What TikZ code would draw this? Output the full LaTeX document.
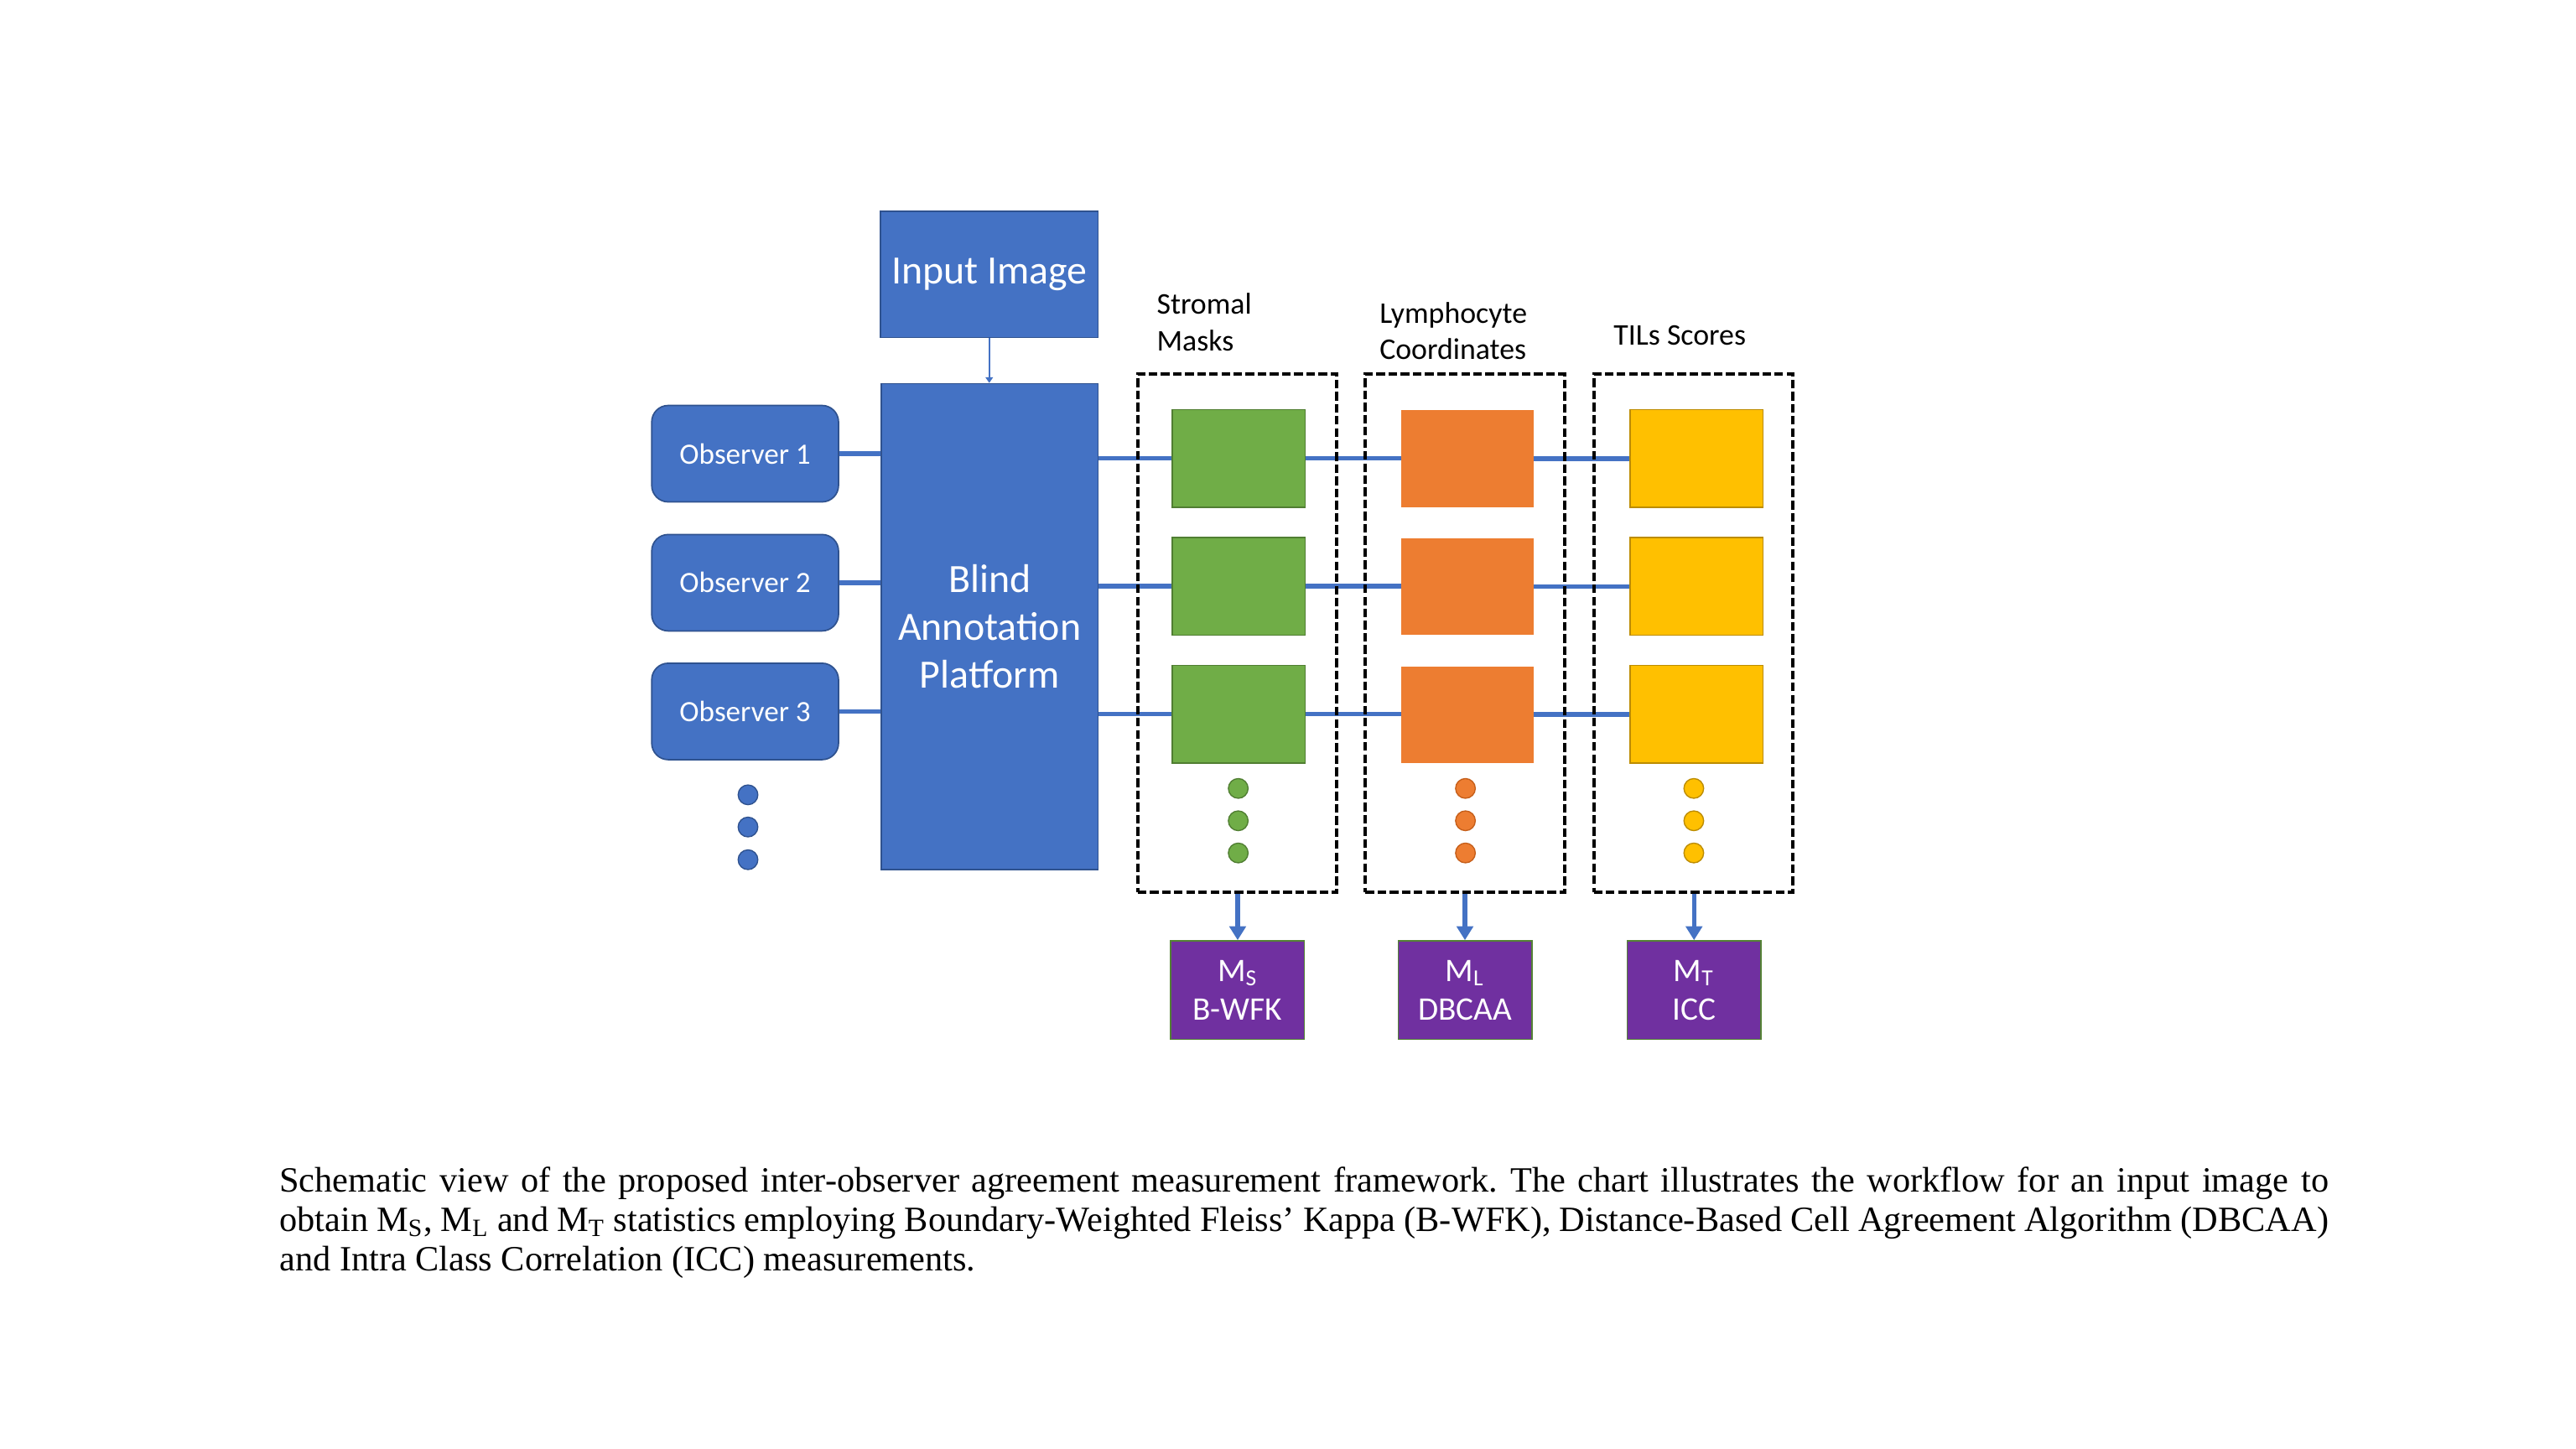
\documentclass[tikz,border=0pt]{standalone}
\usepackage{fontspec}
\setmainfont{Liberation Serif}
\newfontfamily\cali{Carlito}
\usetikzlibrary{arrows.meta,backgrounds}
\definecolor{oblue}{HTML}{4472C4}
\definecolor{oblueD}{HTML}{2F528F}
\definecolor{ogreen}{HTML}{70AD47}
\definecolor{ogreenD}{HTML}{507E32}
\definecolor{oorange}{HTML}{ED7D31}
\definecolor{oorangeD}{HTML}{C65F1A}
\definecolor{oyellow}{HTML}{FFC000}
\definecolor{oyellowD}{HTML}{BC8C00}
\definecolor{opurple}{HTML}{7030A0}
\definecolor{opurpleD}{HTML}{548235}
\frenchspacing
\begin{document}
\begin{tikzpicture}[x=0.02cm,y=-0.02cm,
  bluebox/.style={draw=oblueD, line width=0.5pt, fill=oblue, text=white, inner sep=0pt, align=center,
    font=\cali\fontsize{13.9}{16.5}\selectfont},
  obsbox/.style={draw=oblueD, line width=0.5pt, fill=oblue, text=white, inner sep=0pt, rounded corners=0.2cm,
    minimum width=2.274cm, minimum height=1.174cm, font=\cali\fontsize{10.2}{12}\selectfont},
  bdot/.style={circle, inner sep=0pt, minimum size=0.24cm, line width=0.4pt},
  grp/.style={draw=black, dash pattern=on 3pt off 1.2pt, line width=1.15pt, inner sep=0pt,
    minimum width=2.424cm, minimum height=6.314cm},
  gsq/.style={fill=ogreen, draw=ogreenD, line width=0.5pt, inner sep=0pt, minimum width=1.62cm, minimum height=1.19cm},
  osq/.style={fill=oorange, draw=oorange, line width=0.5pt, inner sep=0pt, minimum width=1.594cm, minimum height=1.16cm},
  ysq/.style={fill=oyellow, draw=oyellowD, line width=0.5pt, inner sep=0pt, minimum width=1.616cm, minimum height=1.19cm},
  psq/.style={fill=opurple, draw=opurpleD, line width=0.5pt, inner sep=0pt, minimum width=1.626cm, minimum height=1.2cm,
    text=white, align=center, font=\cali\fontsize{11.4}{13.5}\selectfont},
  lbl/.style={inner sep=0pt, align=left, font=\cali\fontsize{10.4}{12.6}\selectfont},
  conn/.style={draw=oblue, line width=1.6pt},
  arr/.style={draw=oblue, line width=1.5pt, -{Triangle[width=5.6pt,length=4.8pt]}},
  thinarr/.style={draw=oblue, line width=0.6pt, -{Triangle[width=2.6pt,length=2pt]}},
  captxt/.style={inner sep=0pt, font=\fontsize{12.3}{14}\selectfont}
]
\path[use as bounding box] (0,0) rectangle (1568,882);

% main blocks
\node[bluebox, minimum width=2.65cm, minimum height=1.538cm] (input) at (602.15,166.95) {Input Image};
\node[bluebox, minimum width=2.64cm, minimum height=5.918cm] (blind) at (602.4,381.45) {Blind\\Annotation\\Platform};

\node[obsbox] (obs1) at (453.55,276.15) {Observer 1};
\node[obsbox] (obs2) at (453.55,354.7) {Observer 2};
\node[obsbox] (obs3) at (453.55,433.05) {Observer 3};

\node[bdot, fill=oblue, draw=oblueD] (bd1) at (455.3,483.8) {};
\node[bdot, fill=oblue, draw=oblueD] (bd2) at (455.3,503.4) {};
\node[bdot, fill=oblue, draw=oblueD] (bd3) at (455.3,523.3) {};

% dashed groups
\node[grp] (gS) at (753.1,385.35) {};
\node[grp] (gL) at (891.7,385.35) {};
\node[grp] (gT) at (1030.7,385.35) {};

% squares
\node[gsq] (g1) at (754,279.05) {};
\node[gsq] (g2) at (754,356.9) {};
\node[gsq] (g3) at (754,434.7) {};
\node[osq] (o1) at (893.35,279.2) {};
\node[osq] (o2) at (893.35,357) {};
\node[osq] (o3) at (893.35,435) {};
\node[ysq] (y1) at (1032.8,279.05) {};
\node[ysq] (y2) at (1032.8,356.9) {};
\node[ysq] (y3) at (1032.8,434.7) {};

% small dots
\foreach \i/\yy in {1/479.9,2/499.6,3/519.2}{
  \node[bdot, fill=ogreen, draw=ogreenD] (gd\i) at (753.7,\yy) {};
  \node[bdot, fill=oorange, draw=oorangeD] (od\i) at (892,\yy) {};
  \node[bdot, fill=oyellow, draw=oyellowD] (yd\i) at (1031,\yy) {};
}

% result boxes
\node[psq] (pS) at (753.35,602.7) {M\textsubscript{S}\\B-WFK};
\node[psq] (pL) at (891.7,602.7) {M\textsubscript{L}\\DBCAA};
\node[psq] (pT) at (1031.15,602.7) {M\textsubscript{T}\\ICC};

% labels
\node[lbl, anchor=base west] (lS) at (703.8,213.4) {Stromal\\Masks};
\node[lbl, anchor=base west] (lL) at (839.4,218.9) {Lymphocyte\\Coordinates};
\node[lbl, anchor=base west] (lT) at (981.9,210.1) {TILs Scores};

% connectors
\begin{scope}[on background layer]
\fill[white] (0,0) rectangle (1568,882);
\draw[conn] (obs1.east) -- (obs1.east -| blind.west);
\draw[conn] (obs2.east) -- (obs2.east -| blind.west);
\draw[conn] (obs3.east) -- (obs3.east -| blind.west);
\foreach \r in {1,2,3}{
  \draw[conn] (g\r.west -| blind.east) -- (g\r.west);
  \draw[conn] (g\r.east) -- (g\r.east -| o\r.west);
  \draw[conn] (o\r.east) -- (o\r.east -| y\r.west);
}
\end{scope}
\draw[thinarr] (input.south) -- (input.south |- blind.north);
\draw[arr] (pS.north |- gS.south) -- (pS.north);
\draw[arr] (pL.north |- gL.south) -- (pL.north);
\draw[arr] (pT.north |- gT.south) -- (pT.north);

% caption
\node[captxt, anchor=base west] (c1) at (169.8,725.7) {\makebox[24.95cm][s]{Schematic view of the proposed inter-observer agreement measurement framework. The chart illustrates the workflow for an input image to}};
\node[captxt, anchor=base west] (c2) at (169.8,749.5) {\makebox[24.95cm][s]{obtain M\textsubscript{S}, M\textsubscript{L} and M\textsubscript{T} statistics employing Boundary-Weighted Fleiss' Kappa (B-WFK), Distance-Based Cell Agreement Algorithm (DBCAA)}};
\node[captxt, anchor=base west] (c3) at (169.8,773.3) {and Intra Class Correlation (ICC) measurements.};
\end{tikzpicture}
\end{document}
